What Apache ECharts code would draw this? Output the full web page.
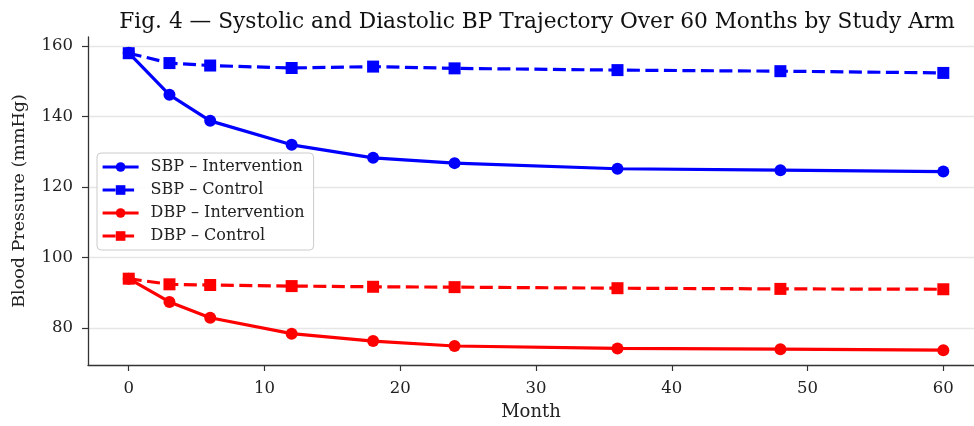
<!DOCTYPE html>
<html>
<head>
<meta charset="utf-8">
<script src="https://cdn.jsdelivr.net/npm/echarts@6/dist/echarts.min.js"></script>
<style>
html,body{margin:0;padding:0;background:#fff;}
#chart{width:974px;height:426px;}
</style>
</head>
<body>
<div id="chart"></div>
<script>
const months = [0, 3, 6, 12, 18, 24, 36, 48, 60];
const sbpIntervention = [158.1, 146.2, 138.8, 132.0, 128.3, 126.8, 125.2, 124.8, 124.4];
const sbpControl = [158.0, 155.2, 154.5, 153.8, 154.2, 153.7, 153.2, 152.9, 152.4];
const dbpIntervention = [94.0, 87.4, 82.9, 78.4, 76.3, 74.9, 74.2, 74.0, 73.7];
const dbpControl = [94.0, 92.4, 92.2, 91.9, 91.7, 91.6, 91.3, 91.1, 91.0];
const seriesNames = ['SBP – Intervention', 'SBP – Control', 'DBP – Intervention', 'DBP – Control'];
const yTicks = [80, 100, 120, 140, 160];
const xTicks = [0, 10, 20, 30, 40, 50, 60];

const FONT = '"DejaVu Serif", serif';
const pair = arr => months.map((m, i) => [m, arr[i]]);

function mkSeries(name, data, color, dashed, symbol) {
  return {
    name: name,
    type: 'line',
    data: pair(data),
    symbol: symbol,
    symbolSize: 12,
    showSymbol: true,
    itemStyle: { color: color },
    lineStyle: { color: color, width: 3.2, type: dashed ? [13, 5.5] : 'solid' },
    emphasis: { disabled: true },
    animation: false,
    z: 3
  };
}

const chart = echarts.init(document.getElementById('chart'), null, { renderer: 'canvas' });
chart.setOption({
  backgroundColor: '#ffffff',
  animation: false,
  textStyle: { fontFamily: FONT },
  title: {
    text: 'Fig. 4 — Systolic and Diastolic BP Trajectory Over 60 Months by Study Arm',
    left: 532, textAlign: 'center', top: 6,
    textStyle: { fontFamily: FONT, fontSize: 21.7, fontWeight: 'normal', color: '#111' }
  },
  grid: { left: 88, top: 37, right: 0, bottom: 57, containLabel: false },
  legend: {
    left: 97, top: 153, orient: 'vertical',
    itemWidth: 36, itemHeight: 12, itemGap: 7,
    padding: [6, 9, 6, 4],
    backgroundColor: 'rgba(255,255,255,0.85)',
    borderColor: '#cccccc', borderWidth: 1, borderRadius: 4,
    lineStyle: { width: 3.2 },
    textStyle: { fontFamily: FONT, fontSize: 16, color: '#222', padding: [0, 0, 0, 7] },
    data: seriesNames
  },
  xAxis: {
    type: 'value', min: -3, max: 62.26,
    name: 'Month', nameLocation: 'middle', nameGap: 38,
    nameTextStyle: { fontFamily: FONT, fontSize: 18, color: '#222' },
    axisLine: { show: true, onZero: false, lineStyle: { color: '#333', width: 1.3 } },
    axisTick: { show: true, length: 6, lineStyle: { color: '#333', width: 1.2 }, customValues: xTicks },
    axisLabel: { fontFamily: FONT, fontSize: 16.5, color: '#222', margin: 15, customValues: xTicks, formatter: v => String(v) },
    splitLine: { show: false }
  },
  yAxis: {
    type: 'value', min: 69.5, max: 162.6,
    name: 'Blood Pressure (mmHg)', nameLocation: 'middle', nameGap: 60, nameRotate: 90,
    nameTextStyle: { fontFamily: FONT, fontSize: 17.5, color: '#222' },
    axisLine: { show: true, onZero: false, lineStyle: { color: '#333', width: 1.3 } },
    axisTick: { show: true, length: 6, lineStyle: { color: '#333', width: 1.2 }, customValues: yTicks },
    axisLabel: { fontFamily: FONT, fontSize: 16.5, color: '#222', margin: 15, customValues: yTicks, formatter: v => String(v) },
    splitLine: { show: true, customValues: yTicks, lineStyle: { color: '#e6e6e6', width: 1.3 } }
  },
  series: [
    mkSeries(seriesNames[0], sbpIntervention, '#0000ff', false, 'circle'),
    mkSeries(seriesNames[1], sbpControl, '#0000ff', true, 'rect'),
    mkSeries(seriesNames[2], dbpIntervention, '#ff0000', false, 'circle'),
    mkSeries(seriesNames[3], dbpControl, '#ff0000', true, 'rect')
  ]
});
</script>
</body>
</html>
